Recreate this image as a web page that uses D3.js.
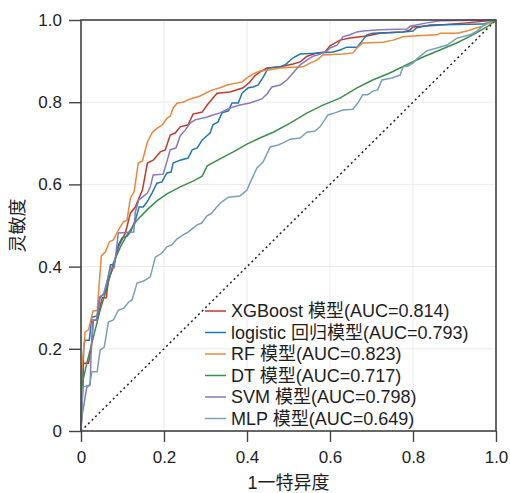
<!DOCTYPE html>
<head>
  <meta charset="utf-8">
  <script src="https://d3js.org/d3.v7.min.js"></script>
  <style>
body { margin: 0; background: #fff; }
text { font-family: "Liberation Sans", Arial, "Noto Sans CJK SC", sans-serif; fill: #1e1e1e; }
.axis text { font-size: 17px; }
.axis path { display: none; }
.axis line { stroke: #444; stroke-width: 1.4px; }
.grid line { stroke: #ebebeb; stroke-width: 1px; }
.roc { fill: none; stroke-width: 1.5px; }
.legend text { font-size: 18px; }
  </style>
</head>

<body>
  <script>

    // ROC curves: [false positive rate, true positive rate]
    var models = ['XGBoost 模型', 'logistic 回归模型', 'RF 模型', 'DT 模型', 'SVM 模型', 'MLP 模型'];
    var aucs = [0.814, 0.793, 0.823, 0.717, 0.798, 0.649];
    var colors = ['#c0392b', '#1f77b4', '#e8883a', '#3a8f4c', '#8679bd', '#78a0b8'];
    var ticks = [0, 0.2, 0.4, 0.6, 0.8, 1.0];

    var rocXGB = [[0,0],[0.003,0.075],[0.006,0.165],[0.018,0.165],[0.024,0.197],[0.030,0.270],[0.039,0.270],
      [0.051,0.324],[0.061,0.324],[0.066,0.367],[0.078,0.399],[0.090,0.448],[0.107,0.482],[0.119,0.530],
      [0.131,0.545],[0.135,0.555],[0.148,0.586],[0.160,0.652],[0.174,0.659],[0.191,0.679],[0.203,0.684],
      [0.215,0.720],[0.227,0.725],[0.239,0.740],[0.258,0.745],[0.270,0.771],[0.292,0.776],[0.304,0.793],
      [0.318,0.810],[0.328,0.822],[0.359,0.825],[0.391,0.835],[0.407,0.849],[0.419,0.864],[0.431,0.873],
      [0.448,0.883],[0.480,0.886],[0.511,0.893],[0.528,0.898],[0.545,0.912],[0.569,0.920],[0.588,0.922],
      [0.600,0.937],[0.624,0.951],[0.648,0.956],[0.689,0.961],[0.720,0.968],[0.776,0.971],[0.793,0.976],
      [0.800,0.983],[0.865,0.988],[0.929,0.993],[1,1]];

    var rocLR = [[0,0],[0.003,0.100],[0.007,0.209],[0.010,0.221],[0.020,0.221],[0.026,0.277],[0.039,0.280],
      [0.046,0.326],[0.058,0.336],[0.071,0.404],[0.080,0.406],[0.090,0.453],[0.099,0.470],[0.111,0.474],
      [0.119,0.484],[0.131,0.513],[0.140,0.545],[0.150,0.545],[0.159,0.557],[0.171,0.579],[0.183,0.603],
      [0.195,0.606],[0.207,0.628],[0.217,0.630],[0.222,0.652],[0.239,0.659],[0.258,0.664],[0.268,0.684],
      [0.280,0.689],[0.292,0.708],[0.311,0.725],[0.318,0.745],[0.330,0.752],[0.340,0.774],[0.355,0.779],
      [0.364,0.798],[0.379,0.798],[0.388,0.822],[0.403,0.835],[0.415,0.837],[0.427,0.842],[0.439,0.861],
      [0.451,0.883],[0.480,0.886],[0.492,0.891],[0.511,0.908],[0.528,0.917],[0.576,0.920],[0.607,0.922],
      [0.624,0.927],[0.641,0.934],[0.665,0.934],[0.679,0.951],[0.689,0.964],[0.703,0.968],[0.776,0.971],
      [0.800,0.973],[0.809,0.981],[0.841,0.988],[0.968,0.990],[1,1]];

    var rocRF = [[0,0],[0.002,0.150],[0.010,0.241],[0.018,0.246],[0.029,0.292],[0.039,0.293],[0.049,0.426],
      [0.059,0.436],[0.068,0.460],[0.078,0.465],[0.090,0.489],[0.102,0.509],[0.111,0.513],[0.119,0.567],
      [0.128,0.582],[0.138,0.652],[0.148,0.657],[0.160,0.703],[0.172,0.727],[0.184,0.737],[0.196,0.745],
      [0.208,0.762],[0.215,0.766],[0.222,0.786],[0.232,0.798],[0.246,0.800],[0.263,0.808],[0.287,0.815],
      [0.306,0.825],[0.318,0.830],[0.335,0.835],[0.352,0.842],[0.376,0.847],[0.388,0.849],[0.400,0.859],
      [0.415,0.869],[0.432,0.876],[0.448,0.878],[0.480,0.883],[0.535,0.886],[0.552,0.895],[0.569,0.903],
      [0.583,0.915],[0.631,0.917],[0.655,0.920],[0.667,0.934],[0.679,0.944],[0.728,0.946],[0.752,0.951],
      [0.776,0.959],[0.800,0.961],[0.858,0.964],[0.865,0.968],[0.906,0.968],[0.930,0.973],[0.954,0.981],
      [0.968,0.985],[0.985,0.993],[1,1]];

    var rocDT = [[0,0],[0.002,0.063],[0.005,0.124],[0.014,0.165],[0.030,0.229],[0.046,0.294],[0.063,0.350],
      [0.078,0.409],[0.095,0.448],[0.111,0.477],[0.135,0.513],[0.159,0.538],[0.183,0.560],[0.207,0.577],
      [0.239,0.594],[0.270,0.608],[0.292,0.620],[0.304,0.645],[0.335,0.662],[0.367,0.679],[0.400,0.698],
      [0.431,0.713],[0.463,0.727],[0.504,0.749],[0.545,0.774],[0.583,0.793],[0.624,0.810],[0.665,0.835],
      [0.703,0.854],[0.744,0.871],[0.785,0.891],[0.824,0.910],[0.865,0.927],[0.905,0.944],[0.944,0.964],
      [0.978,0.983],[1,1]];

    var rocSVM = [[0,0],[0.002,0.034],[0.014,0.107],[0.022,0.112],[0.024,0.180],[0.029,0.270],[0.037,0.270],
      [0.045,0.326],[0.054,0.331],[0.071,0.397],[0.080,0.397],[0.090,0.482],[0.127,0.484],[0.131,0.533],
      [0.139,0.562],[0.148,0.569],[0.160,0.579],[0.167,0.594],[0.174,0.623],[0.198,0.625],[0.208,0.659],
      [0.215,0.684],[0.229,0.689],[0.239,0.718],[0.251,0.732],[0.263,0.749],[0.275,0.757],[0.304,0.764],
      [0.318,0.769],[0.335,0.774],[0.359,0.786],[0.383,0.793],[0.407,0.798],[0.436,0.808],[0.448,0.820],
      [0.460,0.837],[0.480,0.842],[0.496,0.854],[0.511,0.871],[0.528,0.891],[0.545,0.903],[0.559,0.912],
      [0.576,0.917],[0.593,0.925],[0.600,0.932],[0.617,0.939],[0.631,0.959],[0.648,0.964],[0.665,0.971],
      [0.679,0.973],[0.720,0.976],[0.785,0.978],[0.793,0.985],[0.833,0.993],[0.865,0.998],[1,1]];

    var rocMLP = [[0,0],[0.005,0.107],[0.021,0.112],[0.026,0.144],[0.039,0.144],[0.046,0.197],[0.056,0.204],
      [0.066,0.265],[0.078,0.270],[0.090,0.294],[0.103,0.299],[0.115,0.314],[0.123,0.319],[0.135,0.360],
      [0.151,0.365],[0.167,0.375],[0.179,0.423],[0.195,0.433],[0.207,0.448],[0.219,0.453],[0.231,0.467],
      [0.246,0.477],[0.258,0.484],[0.279,0.501],[0.291,0.506],[0.303,0.523],[0.315,0.530],[0.327,0.545],
      [0.339,0.557],[0.355,0.569],[0.383,0.572],[0.400,0.586],[0.407,0.603],[0.424,0.640],[0.439,0.655],
      [0.456,0.691],[0.475,0.696],[0.487,0.701],[0.504,0.710],[0.528,0.713],[0.544,0.727],[0.564,0.730],
      [0.576,0.740],[0.595,0.769],[0.612,0.774],[0.631,0.781],[0.655,0.783],[0.667,0.798],[0.679,0.818],
      [0.691,0.818],[0.703,0.827],[0.715,0.830],[0.725,0.854],[0.749,0.859],[0.769,0.866],[0.776,0.886],
      [0.788,0.888],[0.800,0.895],[0.809,0.905],[0.833,0.925],[0.858,0.932],[0.882,0.939],[0.906,0.956],
      [0.937,0.964],[0.954,0.973],[0.968,0.985],[0.985,0.998],[1,1]];

    var curves = [rocXGB, rocLR, rocRF, rocDT, rocSVM, rocMLP];

    var W = 510, H = 493;
    var margin = {top: 20, right: 14, bottom: 62, left: 81};

    var svg = d3.select("body").append("svg")
      .attr("width", W)
      .attr("height", H);

    var x = d3.scaleLinear().domain([0, 1]).range([margin.left, W - margin.right]);
    var y = d3.scaleLinear().domain([0, 1]).range([H - margin.bottom, margin.top]);
    var fmt = d => d === 0 ? "0" : d3.format(".1f")(d);

    // grid
    svg.append("g").attr("class", "grid")
      .selectAll("line.gx").data(ticks).enter().append("line")
      .attr("x1", d => x(d)).attr("x2", d => x(d))
      .attr("y1", y(0)).attr("y2", y(1));
    svg.select(".grid")
      .selectAll("line.gy").data(ticks).enter().append("line")
      .attr("y1", d => y(d)).attr("y2", d => y(d))
      .attr("x1", x(0)).attr("x2", x(1));

    // chance line
    svg.append("line")
      .attr("x1", x(0)).attr("y1", y(0))
      .attr("x2", x(1)).attr("y2", y(1))
      .attr("stroke", "#222")
      .attr("stroke-width", 1.5)
      .attr("stroke-dasharray", "2,3");

    var line = d3.line().x(d => x(d[0])).y(d => y(d[1]));

    svg.append("g").selectAll("path")
      .data(curves)
      .enter().append("path")
      .attr("class", "roc")
      .attr("d", line)
      .attr("stroke", (d, i) => colors[i]);

    // axes
    svg.append("g").attr("class", "axis")
      .attr("transform", "translate(0," + y(0) + ")")
      .call(d3.axisBottom(x).tickValues(ticks).tickFormat(fmt).tickSize(11).tickPadding(9));
    svg.append("g").attr("class", "axis")
      .attr("transform", "translate(" + x(0) + ",0)")
      .call(d3.axisLeft(y).tickValues(ticks).tickFormat(fmt).tickSize(12).tickPadding(7));

    // frame
    svg.append("rect")
      .attr("x", x(0)).attr("y", y(1))
      .attr("width", x(1) - x(0)).attr("height", y(0) - y(1))
      .attr("fill", "none")
      .attr("stroke", "#444")
      .attr("stroke-width", 1.6);

    // legend
    var legend = svg.append("g").attr("class", "legend")
      .attr("transform", "translate(205,311)");
    var rows = legend.selectAll("g")
      .data(models)
      .enter().append("g")
      .attr("transform", (d, i) => "translate(0," + (i * 21.5) + ")");
    rows.append("line")
      .attr("x1", 0).attr("x2", 21)
      .attr("stroke", (d, i) => colors[i])
      .attr("stroke-width", 1.5);
    rows.append("text")
      .attr("x", 26)
      .attr("dy", "0.36em")
      .text((d, i) => d + "(AUC=" + aucs[i] + ")");

    // axis titles
    svg.append("text")
      .attr("x", (x(0) + x(1)) / 2)
      .attr("y", 489)
      .attr("text-anchor", "middle")
      .style("font-size", "18px")
      .text("1一特异度");
    svg.append("text")
      .attr("transform", "translate(24," + ((y(0) + y(1)) / 2) + ") rotate(-90)")
      .attr("text-anchor", "middle")
      .style("font-size", "18px")
      .text("灵敏度");

  </script>
</body>
